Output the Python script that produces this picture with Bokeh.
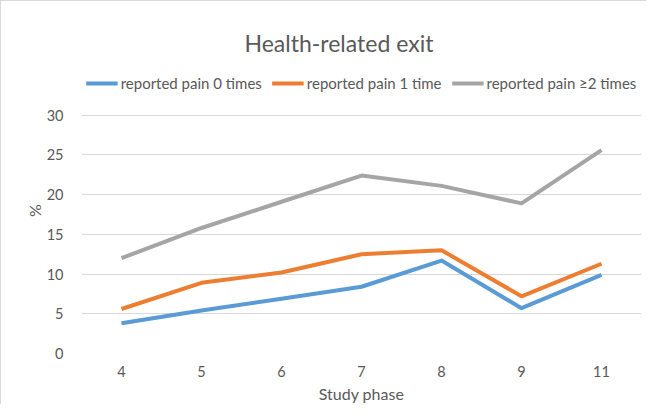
from bokeh.plotting import figure
from bokeh.models import Legend, LegendItem, FactorRange, Range1d, FixedTicker
from bokeh.embed import file_html
from bokeh.resources import INLINE

phases = ["4", "5", "6", "7", "8", "9", "11"]
pain0 = [3.8, 5.4, 6.9, 8.4, 11.7, 5.7, 9.9]
pain1 = [5.6, 8.9, 10.2, 12.5, 13.0, 7.2, 11.3]
pain2 = [12.0, 15.8, 19.1, 22.4, 21.1, 18.9, 25.6]
series_names = ["reported pain 0 times", "reported pain 1 time", "reported pain \u22652 times"]
colors = ["#5B9BD5", "#ED7D31", "#A5A5A5"]
y_ticks = [0, 5, 10, 15, 20, 25, 30]

FONT = "Lato"
TXT = "#595959"

# y range extends above 30 to leave room for the legend inside the frame
p = figure(x_range=FactorRange(*phases), y_range=Range1d(0, 36),
           width=646, height=404, output_backend="svg", toolbar_location=None,
           min_border_left=80, min_border_right=6, min_border_bottom=51, min_border_top=66)
p.styles = {"border-left": "1px solid #D9D9D9", "border-top": "1px solid #D9D9D9"}

renderers = []
for ys, c in zip([pain0, pain1, pain2], colors):
    r = p.line(phases, ys, line_color=c, line_width=4, line_join="round")
    renderers.append(r)

p.title.text = "Health-related exit"
p.title.align = "left"
p.title.offset = 163
p.title.text_font = FONT
p.title.text_font_size = "23px"
p.title.text_font_style = "normal"
p.title.text_color = TXT
p.title.standoff = 22

legend = Legend(items=[LegendItem(label=n, renderers=[r]) for n, r in zip(series_names, renderers)],
                orientation="horizontal", location="top",
                label_text_font=FONT, label_text_font_size="15px", label_text_color=TXT,
                glyph_width=32, glyph_height=14, spacing=10, padding=0, margin=7,
                border_line_color=None, background_fill_color=None, label_standoff=3)
p.add_layout(legend)

p.yaxis.ticker = FixedTicker(ticks=y_ticks)
p.yaxis.axis_line_color = None
p.yaxis.major_tick_line_color = None
p.yaxis.minor_tick_line_color = None
p.yaxis.axis_label = "%"
p.yaxis.major_label_standoff = 12
p.xaxis.axis_label = "Study phase"
p.xaxis.axis_line_color = None
p.xaxis.major_tick_line_color = None
p.xaxis.major_label_standoff = 6
for ax in (p.xaxis[0], p.yaxis[0]):
    ax.major_label_text_font = FONT
    ax.major_label_text_font_size = "14.5px"
    ax.major_label_text_color = TXT
    ax.axis_label_text_font = FONT
    ax.axis_label_text_font_size = "16px"
    ax.axis_label_text_color = TXT
    ax.axis_label_text_font_style = "normal"
p.xaxis.axis_label_standoff = 4
p.yaxis.axis_label_standoff = 0

p.xgrid.grid_line_color = None
p.ygrid.grid_line_color = "#D9D9D9"
p.ygrid.grid_line_width = 1
p.ygrid.ticker = FixedTicker(ticks=y_ticks)
p.outline_line_color = None

open("out.html", "w").write(file_html(p, INLINE))
